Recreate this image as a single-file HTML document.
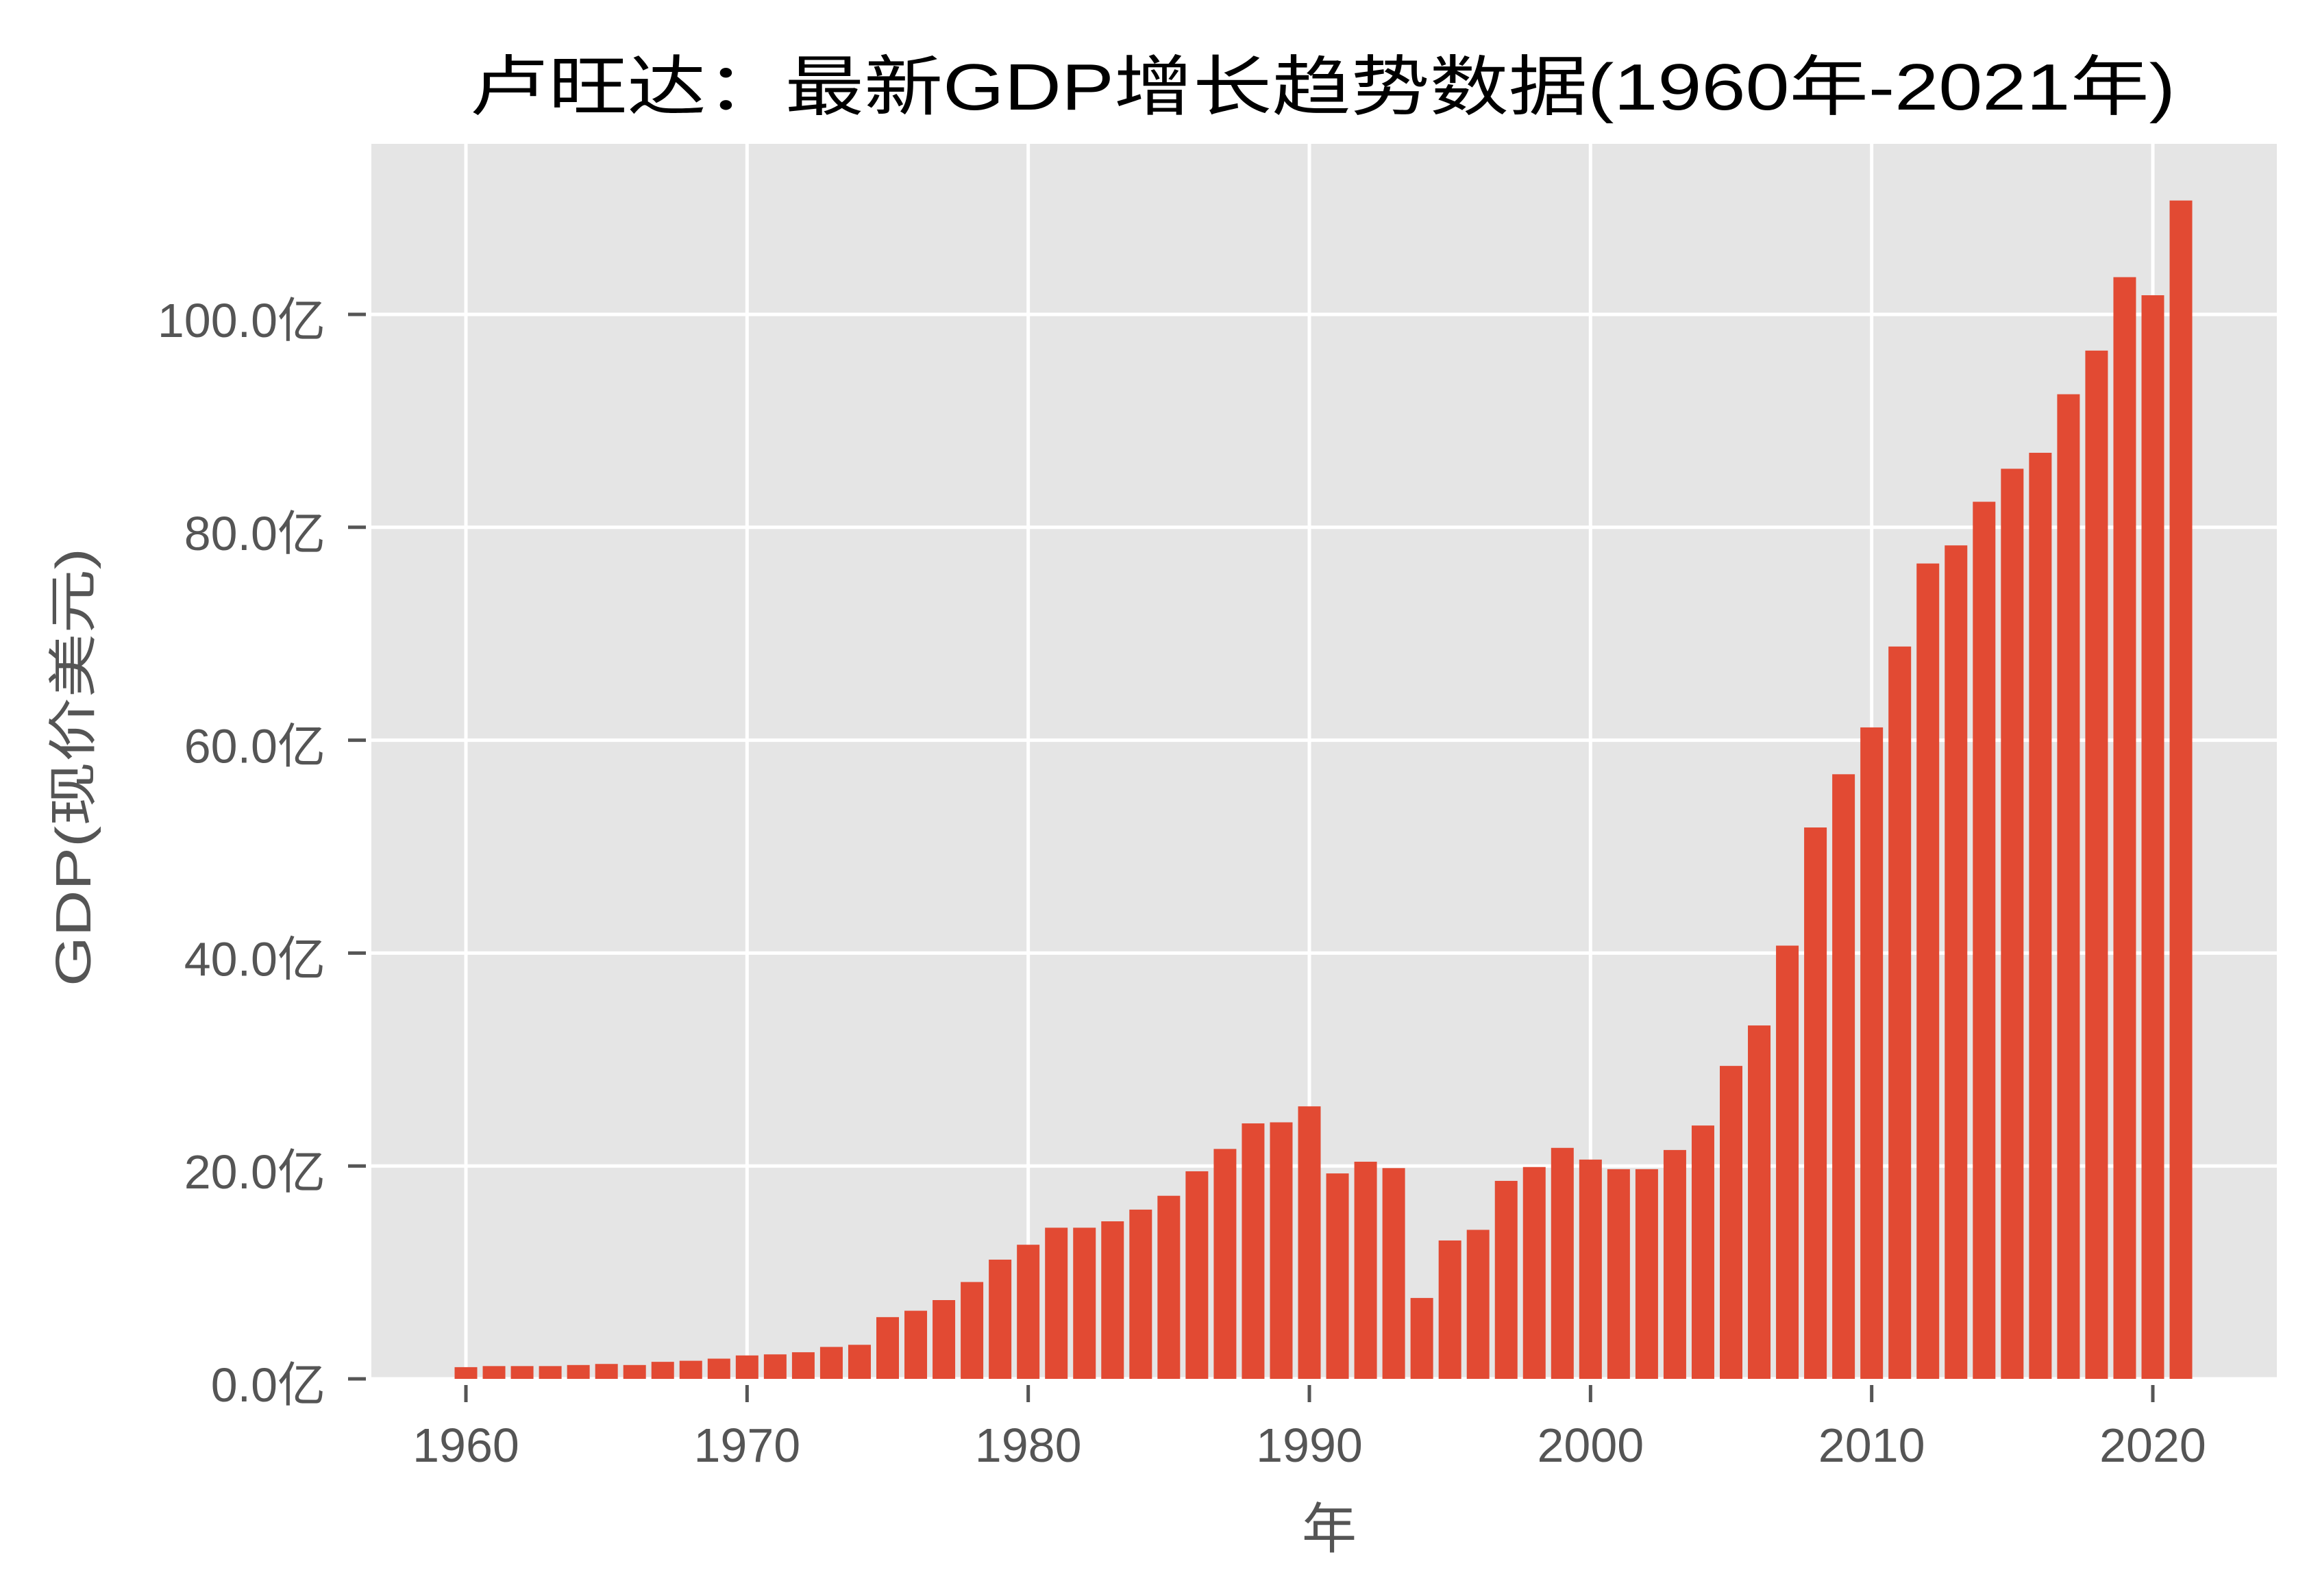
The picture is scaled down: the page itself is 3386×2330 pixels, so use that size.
<!DOCTYPE html>
<html><head><meta charset="utf-8"><style>
html,body{margin:0;padding:0;background:#fff;}
svg{display:block;}
text{font-family:"Liberation Sans","Noto Sans CJK SC",sans-serif;}
</style></head><body>
<svg id="chart" width="3386" height="2330" viewBox="0 0 3386 2330" xmlns="http://www.w3.org/2000/svg">
<rect x="0" y="0" width="3386" height="2330" fill="#fff"/>
<rect x="542" y="210" width="2781" height="1803" fill="#e5e5e5"/>
<g id="grid"></g>
<g id="bars"></g>
<g id="axes"></g>
<text x="1930" y="160" text-anchor="middle" font-size="96" fill="#000" textLength="2490" lengthAdjust="spacingAndGlyphs">卢旺达：最新GDP增长趋势数据(1960年-2021年)</text>
<text x="0" y="0" transform="translate(132,1120) rotate(-90)" text-anchor="middle" font-size="72" fill="#555" textLength="640" lengthAdjust="spacingAndGlyphs">GDP(现价美元)</text>
<text x="1940" y="2260" text-anchor="middle" font-size="80" fill="#555">年</text>
</svg>
<script>
const years = [];
for (let y = 1960; y <= 2021; y++) years.push(y);
const gdpValues = [1.1,1.2,1.2,1.2,1.3,1.4,1.3,1.6,1.7,1.9,2.2,2.3,2.5,3.0,3.2,5.8,6.4,7.4,9.1,11.2,12.6,14.2,14.2,14.8,15.9,17.2,19.5,21.6,24.0,24.1,25.6,19.3,20.4,19.8,7.6,13.0,14.0,18.6,19.9,21.7,20.6,19.7,19.7,21.5,23.8,29.4,33.2,40.7,51.8,56.8,61.2,68.8,76.6,78.3,82.4,85.5,87.0,92.5,96.6,103.5,101.8,110.7];
const yTicks = [0,20,40,60,80,100];
const yTickLabels = ["0.0亿","20.0亿","40.0亿","60.0亿","80.0亿","100.0亿"];
const xTicks = [1960,1970,1980,1990,2000,2010,2020];
const xTickLabels = ["1960","1970","1980","1990","2000","2010","2020"];

const NS = "http://www.w3.org/2000/svg";
const L = 542, R = 3323, T = 210, B = 2013;
const xScale = yr => 680 + (yr - 1960) * (3142 - 680) / 60;
const yScale = v => B - v * (B - 459) / 100;
const barW = 33;
function mk(tag, attrs) { const e = document.createElementNS(NS, tag); for (const k in attrs) e.setAttribute(k, attrs[k]); return e; }
const grid = document.getElementById('grid'), bars = document.getElementById('bars'), axes = document.getElementById('axes');

yTicks.forEach((v, i) => {
  const y = yScale(v);
  const g = mk('line', {x1: L, x2: R, y1: y, y2: y, stroke: '#fff', 'stroke-width': 5});
  
  
  grid.appendChild(g);
  const t = mk('line', {x1: 508, x2: 534, y1: y, y2: y, stroke: '#555', 'stroke-width': 5});
  
  
  axes.appendChild(t);
  const lb = mk('text', {x: 475, y: y + 33, 'text-anchor': 'end', 'font-size': 70, fill: '#555'});
  
  
  lb.textContent = yTickLabels[i];
  axes.appendChild(lb);
});
xTicks.forEach((yr, i) => {
  const x = xScale(yr);
  const g = mk('line', {x1: x, x2: x, y1: T, y2: B, stroke: '#fff', 'stroke-width': 5});
  
  
  grid.appendChild(g);
  const t = mk('line', {x1: x, x2: x, y1: 2022, y2: 2047, stroke: '#555', 'stroke-width': 5});
  
  
  axes.appendChild(t);
  const lb = mk('text', {x: x, y: 2134, 'text-anchor': 'middle', 'font-size': 70, fill: '#555'});
  
  
  lb.textContent = xTickLabels[i];
  axes.appendChild(lb);
});
years.forEach((yr, i) => {
  const x = xScale(yr), y = yScale(gdpValues[i]);
  const b = mk('rect', {x: x - barW / 2, y: y, width: barW, height: B - y, fill: '#e24a33'});
  
  
  bars.appendChild(b);
});
</script>
</body></html>
